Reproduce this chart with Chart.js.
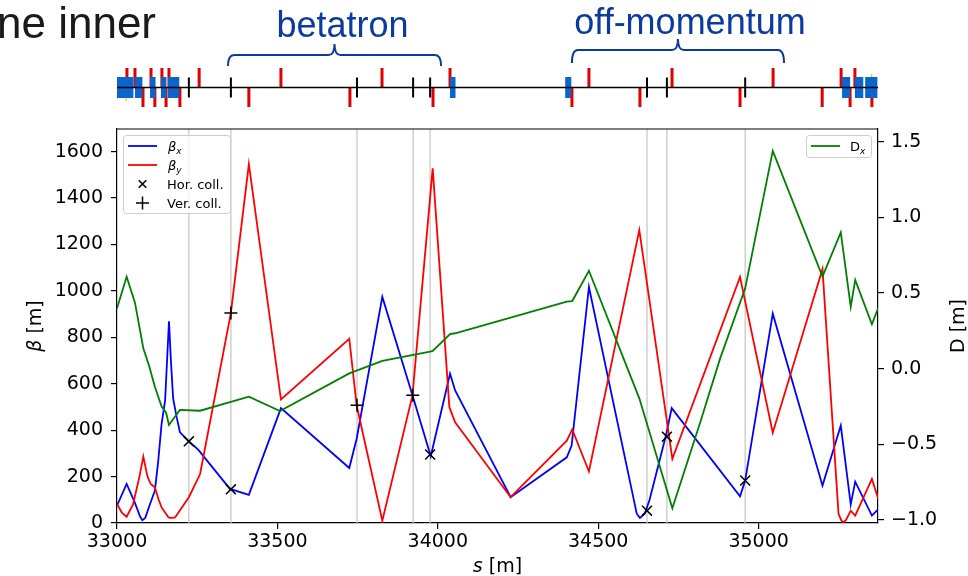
<!DOCTYPE html>
<html>
<head>
<meta charset="utf-8">
<script src="https://cdn.jsdelivr.net/npm/chart.js@4.4.1/dist/chart.umd.min.js"></script>
<style>
  html, body { margin: 0; padding: 0; background: #fff; }
  canvas { display: block; }
</style>
</head>
<body>
<canvas id="optics" width="968" height="576"></canvas>
<script>
// ---- optics functions along the insertion (s in metres) ----
const sBx   = [33000, 33030, 33055, 33072, 33079, 33088, 33103, 33118, 33128, 33139, 33150, 33162, 33168, 33175, 33186, 33196, 33224, 33253, 33352, 33411, 33511, 33724, 33747, 33827, 33921, 33978, 34038, 34054, 34227, 34402, 34417, 34471, 34620, 34630, 34645, 34660, 34711, 34729, 34942, 34958, 35044, 35199, 35256, 35287, 35301, 35353, 35373];
const betaX = [75, 168, 90, 28, 12, 22, 82, 139, 260, 427, 528, 869, 700, 536, 456, 392, 351, 316, 147, 121, 495, 237, 363, 974, 550, 288, 643, 571, 111, 283, 334, 1017, 40, 22, 40, 100, 377, 495, 115, 183, 902, 161, 420, 80, 178, 32, 60];

const sBy   = [33000, 33015, 33030, 33050, 33070, 33082, 33095, 33105, 33118, 33130, 33139, 33150, 33160, 33165, 33172, 33181, 33224, 33259, 33355, 33411, 33511, 33724, 33747, 33827, 33921, 33984, 34036, 34054, 34227, 34402, 34419, 34471, 34628, 34731, 34942, 35044, 35199, 35249, 35258, 35264, 35272, 35287, 35301, 35353, 35373];
const betaY = [82, 45, 27, 80, 200, 286, 200, 168, 154, 100, 67, 45, 25, 22, 22, 24, 111, 211, 905, 1546, 532, 794, 506, 10, 550, 1528, 499, 434, 111, 355, 403, 222, 1262, 276, 1060, 389, 1094, 39, 10, 3, 12, 53, 32, 190, 104];

const sDx   = [33000, 33030, 33056, 33082, 33100, 33118, 33139, 33153, 33162, 33196, 33259, 33411, 33508, 33724, 33827, 33976, 33984, 34038, 34054, 34402, 34419, 34471, 34628, 34731, 34817, 34880, 34958, 35044, 35199, 35256, 35287, 35301, 35353, 35373];
const dispX = [0.399, 0.608, 0.436, 0.135, 0.02, -0.119, -0.251, -0.291, -0.372, -0.273, -0.278, -0.185, -0.280, -0.031, 0.051, 0.112, 0.117, 0.229, 0.234, 0.443, 0.447, 0.647, -0.196, -0.923, -0.361, 0.068, 0.531, 1.439, 0.608, 0.901, 0.409, 0.586, 0.293, 0.403];

// collimators: horizontal (×) and vertical (+) jaws, beta at the jaw
const hCollS    = [33224, 33355, 33976, 34652, 34714, 34958];
const hCollBeta = [352, 145, 295, 53, 372, 183];
const vCollS    = [33355, 33748, 33922];
const vCollBeta = [905, 507, 550];
const collS     = [33224, 33355, 33748, 33923, 33976, 34652, 34714, 34958];

// lattice elements for the layout strip
const dipoleStart = [33000, 33056, 33103, 33137, 33159, 34038, 34397, 35260, 35300, 35332];
const dipoleEnd   = [33053, 33081, 33122, 33156, 33196, 34057, 34418, 35287, 35328, 35372];
const quadFocus   = [33031, 33056, 33106, 33140, 33162, 33256, 33511, 33826, 34038, 34471, 34730, 35045, 35257, 35300];
const quadDefocus = [33081, 33118, 33153, 33196, 33411, 33726, 33985, 34418, 34630, 34942, 35198, 35285, 35353];
const sextUp      = [35352];
const sextDown    = [33028];

// cleaning regions marked above the strip
const regionNames = ['betatron', 'off-momentum'];
const regionStart = [33346, 34418];
const regionEnd   = [34010, 35079];

// axis ticks
const sTicks    = [33000, 33500, 34000, 34500, 35000];
const betaTicks = [0, 200, 400, 600, 800, 1000, 1200, 1400, 1600];
const dTicks    = [-1.0, -0.5, 0.0, 0.5, 1.0, 1.5];

const SANS = '"DejaVu Sans", sans-serif';
const ARIAL = '"Liberation Sans", Arial, sans-serif';
const LW = 1.8;

const pts = (xs, ys) => xs.map((v, i) => ({ x: v, y: ys[i] }));

// draws a sequence of differently styled text runs
function drawRuns(ctx, runs, x, y, align) {
  let total = 0;
  runs.forEach(r => { ctx.font = r.font; r.w = ctx.measureText(r.t).width; total += r.w; });
  let cx = align === 'center' ? x - total / 2 : x;
  runs.forEach(r => {
    ctx.font = r.font;
    ctx.fillText(r.t, cx, y + (r.dy || 0));
    cx += r.w;
  });
}

function drawBrace(ctx, xL, xR, xc, yE, yH, yT) {
  const r = 6;
  ctx.beginPath();
  ctx.moveTo(xL, yE);
  ctx.quadraticCurveTo(xL, yH, xL + r, yH);
  ctx.lineTo(xc - r, yH);
  ctx.quadraticCurveTo(xc, yH, xc, yT);
  ctx.moveTo(xc, yT);
  ctx.quadraticCurveTo(xc, yH, xc + r, yH);
  ctx.lineTo(xR - r, yH);
  ctx.quadraticCurveTo(xR, yH, xR, yE);
  ctx.stroke();
}

const decor = {
  id: 'decor',
  beforeDatasetsDraw(chart) {
    const { ctx, chartArea: a, scales: { x } } = chart;
    ctx.save();
    ctx.strokeStyle = '#c8c8c8';
    ctx.lineWidth = 1.3;
    collS.forEach(s => {
      const px = x.getPixelForValue(s);
      ctx.beginPath();
      ctx.moveTo(px, a.top);
      ctx.lineTo(px, a.bottom);
      ctx.stroke();
    });
    ctx.restore();
  },
  afterDraw(chart) {
    const { ctx, chartArea: a, scales: { x } } = chart;
    ctx.save();

    // top spine
    ctx.strokeStyle = '#000';
    ctx.lineWidth = 1.2;
    ctx.beginPath();
    ctx.moveTo(a.left, a.top);
    ctx.lineTo(a.right, a.top);
    ctx.stroke();

    // ---- legend for beta functions and collimators ----
    ctx.fillStyle = 'rgba(255,255,255,0.8)';
    ctx.strokeStyle = '#cccccc';
    ctx.lineWidth = 1;
    ctx.beginPath();
    ctx.roundRect(123.5, 135.5, 107, 78, 3);
    ctx.fill();
    ctx.stroke();
    const rows = [146, 165, 184, 203];
    ctx.lineWidth = LW;
    ctx.strokeStyle = '#0000ff';
    ctx.beginPath(); ctx.moveTo(128, rows[0]); ctx.lineTo(157, rows[0]); ctx.stroke();
    ctx.strokeStyle = '#ff0000';
    ctx.beginPath(); ctx.moveTo(128, rows[1]); ctx.lineTo(157, rows[1]); ctx.stroke();
    ctx.strokeStyle = '#000';
    ctx.lineWidth = 1.5;
    const m = 3.8;
    ctx.beginPath();
    ctx.moveTo(142.5 - m, rows[2] - m); ctx.lineTo(142.5 + m, rows[2] + m);
    ctx.moveTo(142.5 + m, rows[2] - m); ctx.lineTo(142.5 - m, rows[2] + m);
    ctx.moveTo(142.5 - 6.5, rows[3]); ctx.lineTo(142.5 + 6.5, rows[3]);
    ctx.moveTo(142.5, rows[3] - 6.5); ctx.lineTo(142.5, rows[3] + 6.5);
    ctx.stroke();
    ctx.fillStyle = '#000';
    ctx.textBaseline = 'alphabetic';
    ctx.textAlign = 'left';
    drawRuns(ctx, [{ t: 'β', font: 'italic 13px ' + SANS }, { t: 'x', font: 'italic 9px ' + SANS, dy: 3 }], 168, rows[0] + 4.5);
    drawRuns(ctx, [{ t: 'β', font: 'italic 13px ' + SANS }, { t: 'y', font: 'italic 9px ' + SANS, dy: 3 }], 168, rows[1] + 4.5);
    ctx.font = '13px ' + SANS;
    ctx.fillText('Hor. coll.', 167, rows[2] + 4.7);
    ctx.fillText('Ver. coll.', 167, rows[3] + 4.7);

    // ---- legend for dispersion ----
    ctx.fillStyle = 'rgba(255,255,255,0.8)';
    ctx.strokeStyle = '#cccccc';
    ctx.lineWidth = 1;
    ctx.beginPath();
    ctx.roundRect(806.5, 135.5, 65, 22, 3);
    ctx.fill();
    ctx.stroke();
    ctx.strokeStyle = '#008000';
    ctx.lineWidth = LW;
    ctx.beginPath(); ctx.moveTo(811, 146); ctx.lineTo(840, 146); ctx.stroke();
    ctx.fillStyle = '#000';
    drawRuns(ctx, [{ t: 'D', font: '13px ' + SANS }, { t: 'x', font: 'italic 9px ' + SANS, dy: 3 }], 850, 150.7);

    // ---- axis titles ----
    ctx.fillStyle = '#000';
    drawRuns(ctx, [{ t: 's', font: 'italic 19px ' + SANS }, { t: ' [m]', font: '19px ' + SANS }], (a.left + a.right) / 2, 572, 'center');
    ctx.save();
    ctx.translate(40.5, (a.top + a.bottom) / 2);
    ctx.rotate(-Math.PI / 2);
    drawRuns(ctx, [{ t: 'β', font: 'italic 19px ' + SANS }, { t: ' [m]', font: '19px ' + SANS }], 0, 0, 'center');
    ctx.restore();
    ctx.save();
    ctx.translate(964, (a.top + a.bottom) / 2);
    ctx.rotate(-Math.PI / 2);
    drawRuns(ctx, [{ t: 'D [m]', font: '19px ' + SANS }], 0, 0, 'center');
    ctx.restore();

    // ---- lattice layout strip ----
    const yb = 87.5;
    ctx.fillStyle = '#e00000';
    quadFocus.forEach(s => { const px = x.getPixelForValue(s); ctx.fillRect(px - 1.5, 68, 3, 19.5); });
    quadDefocus.forEach(s => { const px = x.getPixelForValue(s); ctx.fillRect(px - 1.5, 87.5, 3, 19.5); });
    ctx.fillStyle = '#0a66cc';
    dipoleStart.forEach((s0, i) => {
      const x0 = x.getPixelForValue(s0), x1 = x.getPixelForValue(dipoleEnd[i]);
      ctx.fillRect(x0, 77, x1 - x0 - 0.6, 21);
    });
    ctx.fillStyle = '#f2c200';
    sextUp.forEach(s => { const px = x.getPixelForValue(s); ctx.fillRect(px - 0.5, 74, 1.2, 3); });
    sextDown.forEach(s => { const px = x.getPixelForValue(s); ctx.fillRect(px - 0.5, 98, 1.2, 3); });
    ctx.strokeStyle = '#000';
    ctx.lineWidth = 1.5;
    ctx.beginPath();
    ctx.moveTo(a.left, yb);
    ctx.lineTo(a.right, yb);
    ctx.stroke();
    ctx.fillStyle = '#000';
    collS.forEach(s => { const px = x.getPixelForValue(s); ctx.fillRect(px - 1, 77.5, 2, 20); });

    // ---- region labels with braces ----
    ctx.strokeStyle = '#0d3a9e';
    ctx.lineWidth = 2;
    const braceY = [[66, 55, 44], [63, 50, 39]];
    const textY = [37, 34];
    const textShift = [8, 12];
    ctx.fillStyle = '#0b3aa0';
    ctx.font = '36px ' + ARIAL;
    ctx.textAlign = 'center';
    regionNames.forEach((name, i) => {
      const xL = x.getPixelForValue(regionStart[i]);
      const xR = x.getPixelForValue(regionEnd[i]);
      const xc = (xL + xR) / 2;
      drawBrace(ctx, xL, xR, xc, braceY[i][0], braceY[i][1], braceY[i][2]);
      ctx.fillText(name, xc + textShift[i], textY[i]);
    });

    // slide text running in from the left
    ctx.textAlign = 'left';
    ctx.fillStyle = '#1a1a1a';
    ctx.font = '44px ' + ARIAL;
    ctx.fillText('ne inner', -3, 38);

    ctx.restore();
  }
};

const tickGrid = { display: true, drawOnChartArea: false, drawTicks: true, tickLength: 6, color: '#000', lineWidth: 1.2 };
const spine = { display: true, color: '#000', width: 1.2 };

new Chart(document.getElementById('optics').getContext('2d'), {
  type: 'line',
  data: {
    datasets: [
      { label: 'Ver. coll.', type: 'scatter', data: pts(vCollS, vCollBeta), yAxisID: 'y', pointStyle: 'cross', pointRadius: 6.5, borderColor: '#000', backgroundColor: '#000', borderWidth: 1.5, order: 0 },
      { label: 'Hor. coll.', type: 'scatter', data: pts(hCollS, hCollBeta), yAxisID: 'y', pointStyle: 'crossRot', pointRadius: 7, borderColor: '#000', backgroundColor: '#000', borderWidth: 1.5, order: 1 },
      { label: 'Dx', data: pts(sDx, dispX), yAxisID: 'y2', borderColor: '#008000', borderWidth: LW, pointRadius: 0, tension: 0, order: 2 },
      { label: 'βy', data: pts(sBy, betaY), yAxisID: 'y', borderColor: '#ff0000', borderWidth: LW, pointRadius: 0, tension: 0, order: 3 },
      { label: 'βx', data: pts(sBx, betaX), yAxisID: 'y', borderColor: '#0000ff', borderWidth: LW, pointRadius: 0, tension: 0, order: 4 }
    ]
  },
  options: {
    responsive: false,
    animation: false,
    devicePixelRatio: 1,
    layout: { padding: { top: 129, left: 0, right: 0, bottom: 0 } },
    plugins: { legend: { display: false }, tooltip: { enabled: false } },
    scales: {
      x: {
        type: 'linear', min: 33000, max: 35372,
        afterFit: s => { s.height = 53; },
        afterBuildTicks: s => { s.ticks = sTicks.map(v => ({ value: v })); },
        grid: tickGrid, border: spine,
        ticks: { font: { family: SANS, size: 19 }, color: '#000', padding: 2, maxRotation: 0, autoSkip: false, callback: v => String(v) }
      },
      y: {
        type: 'linear', position: 'left', min: 0, max: 1697.5,
        afterFit: s => { s.width = 117; },
        afterBuildTicks: s => { s.ticks = betaTicks.map(v => ({ value: v })); },
        grid: tickGrid, border: spine,
        ticks: { font: { family: SANS, size: 19 }, color: '#000', padding: 8, autoSkip: false, callback: v => String(v) }
      },
      y2: {
        type: 'linear', position: 'right', min: -1.02, max: 1.584,
        afterFit: s => { s.width = 90; },
        afterBuildTicks: s => { s.ticks = dTicks.map(v => ({ value: v })); },
        grid: tickGrid, border: spine,
        ticks: { font: { family: SANS, size: 19 }, color: '#000', padding: 7, autoSkip: false, callback: v => Number(v).toFixed(1).replace('-', '\u2212') }
      }
    }
  },
  plugins: [decor]
});
</script>
</body>
</html>
